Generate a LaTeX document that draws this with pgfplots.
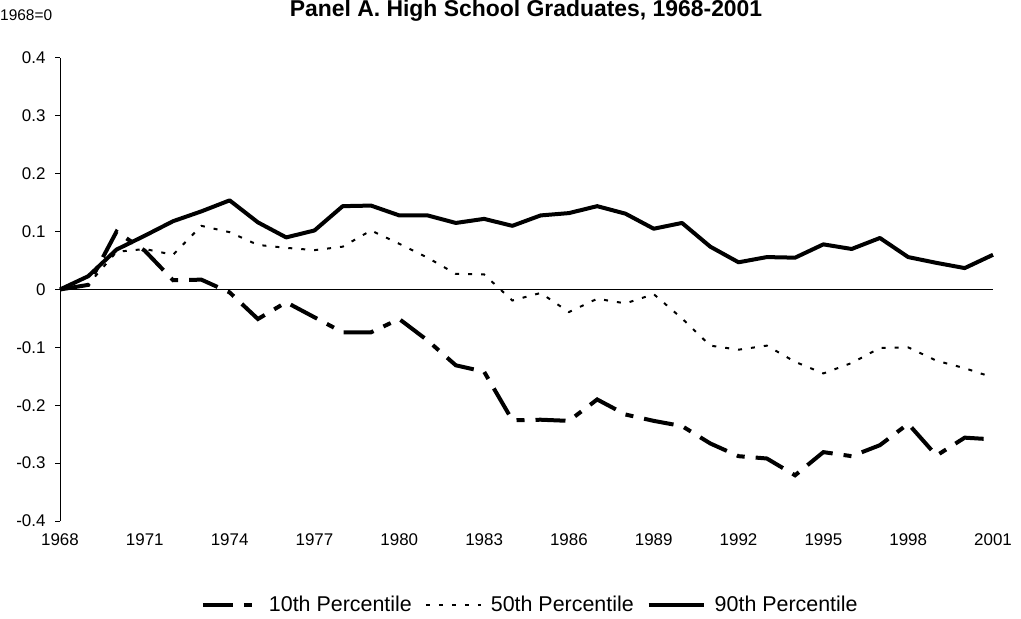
\documentclass[border=0pt]{standalone}
\usepackage{fontspec}
\setmainfont{Liberation Sans}
\usepackage{pgfplots}
\usepackage{pgfplotstable}
\pgfplotsset{compat=1.18}
\pgfplotstableread{
year p10 p50 p90
1968 0 0 0
1969 0.008 0.009 0.023
1970 0.100 0.065 0.069
1971 0.067 0.070 0.093
1972 0.016 0.060 0.118
1973 0.017 0.110 0.135
1974 -0.005 0.099 0.154
1975 -0.051 0.077 0.116
1976 -0.022 0.072 0.090
1977 -0.048 0.068 0.102
1978 -0.074 0.074 0.144
1979 -0.074 0.102 0.145
1980 -0.051 0.079 0.128
1981 -0.088 0.055 0.128
1982 -0.131 0.027 0.115
1983 -0.142 0.026 0.122
1984 -0.226 -0.019 0.110
1985 -0.225 -0.006 0.128
1986 -0.227 -0.039 0.132
1987 -0.190 -0.016 0.144
1988 -0.216 -0.024 0.131
1989 -0.227 -0.008 0.105
1990 -0.236 -0.050 0.115
1991 -0.266 -0.097 0.074
1992 -0.288 -0.104 0.047
1993 -0.292 -0.097 0.056
1994 -0.321 -0.125 0.055
1995 -0.281 -0.145 0.078
1996 -0.288 -0.127 0.070
1997 -0.269 -0.101 0.089
1998 -0.232 -0.100 0.056
1999 -0.287 -0.123 0.046
2000 -0.256 -0.136 0.037
2001 -0.259 -0.152 0.060
}\datatable
\begin{document}
\begin{tikzpicture}
\path[use as bounding box] (0,0) rectangle (1021bp,619bp);
\begin{axis}[
  at={(60bp,98bp)}, anchor=south west,
  scale only axis, width=933bp, height=463bp,
  xmin=1968, xmax=2001, ymin=-0.4, ymax=0.4,
  axis y line*=left, axis x line*=bottom,
  axis line style={-},
  x axis line style={draw=none},
  y axis line style={line width=1bp},
  xtick={1968,1971,1974,1977,1980,1983,1986,1989,1992,1995,1998,2001},
  xticklabels={1968,1971,1974,1977,1980,1983,1986,1989,1992,1995,1998,2001},
  xtick style={draw=none},
  ytick={-0.4,-0.3,-0.2,-0.1,0,0.1,0.2,0.3,0.4},
  yticklabels={-0.4,-0.3,-0.2,-0.1,0,0.1,0.2,0.3,0.4},
  ytick style={line width=1bp, black},
  tick align=outside, major tick length=5bp,
  ticklabel style={font=\fontsize{17}{20}\selectfont},
  xticklabel style={yshift=-4bp},
  yticklabel style={xshift=-6bp},
  clip=false,
  legend columns=3,
  legend style={at={(0.503,-0.181)}, anchor=center, draw=none, fill=none,
    font=\fontsize{21.5}{24}\selectfont,
    nodes={inner xsep=0pt},
    /tikz/every odd column/.append style={column sep=9bp},
    /tikz/every even column/.append style={column sep=13bp}},
  legend image code/.code={\draw[#1] (0bp,0bp) -- (55bp,0bp);},
]
\addplot[black, line width=1.2bp, forget plot] coordinates {(1968,0) (2001,0)};
\addplot[black, line width=4bp, dash pattern=on 30bp off 11bp on 8bp off 11bp] table[x=year, y=p10] {\datatable};
\addplot[black, line width=2bp, dash pattern=on 4bp off 9bp] table[x=year, y=p50] {\datatable};
\addplot[black, line width=4bp, line join=round] table[x=year, y=p90] {\datatable};
\legend{10th Percentile, 50th Percentile, 90th Percentile}
\end{axis}
\node[anchor=base, font=\bfseries\fontsize{23}{26}\selectfont] at (526bp,602.5bp) {Panel A. High School Graduates, 1968-2001};
\node[anchor=base west, inner sep=0pt, font=\fontsize{15.5}{18}\selectfont] at (0bp,598bp) {1968=0};
\end{tikzpicture}
\end{document}
